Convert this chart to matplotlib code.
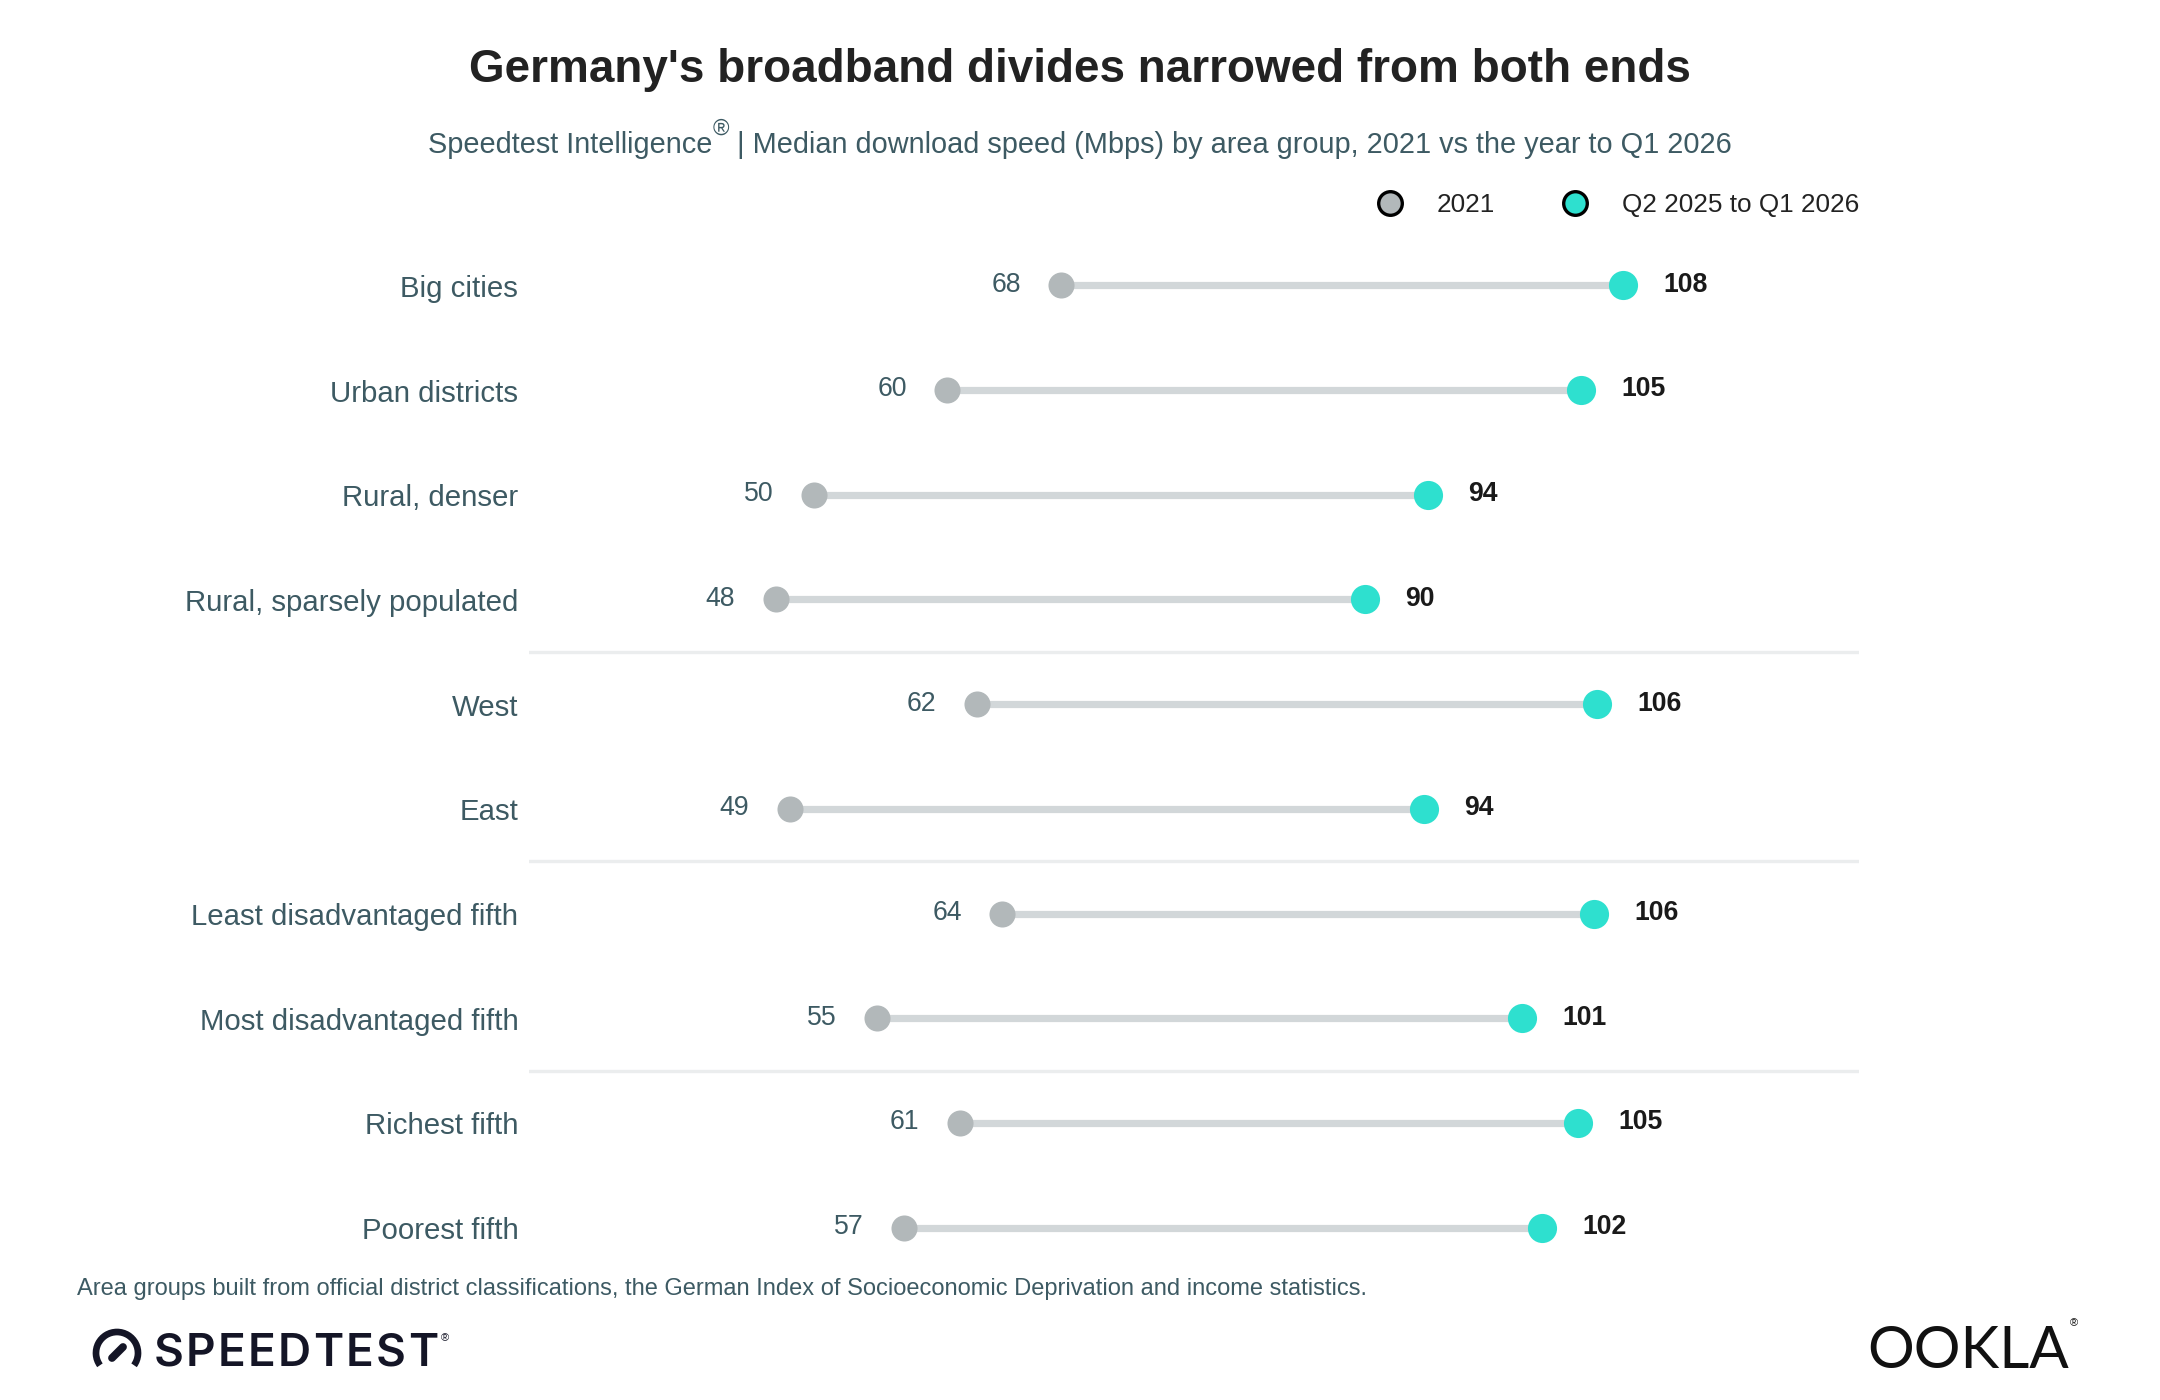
import matplotlib.pyplot as plt
from matplotlib.lines import Line2D
from matplotlib.patches import Arc

plt.rcParams['font.family'] = ['Liberation Sans', 'DejaVu Sans']

# data (dot positions; labels are the rounded values)
groups = ["Big cities", "Urban districts", "Rural, denser", "Rural, sparsely populated",
          "West", "East", "Least disadvantaged fifth", "Most disadvantaged fifth",
          "Richest fifth", "Poorest fifth"]
speed_2021 = [68.0, 59.9, 50.4, 47.7, 62.0, 48.7, 63.8, 54.9, 60.8, 56.8]
speed_recent = [108.0, 105.0, 94.1, 89.6, 106.1, 93.8, 105.9, 100.8, 104.8, 102.2]
separators = [3.5, 5.5, 7.5]

SLATE = "#3d5a63"
GREY_DOT = "#b2b8ba"
TEAL = "#2ee0cf"
LINE = "#d2d7d9"
INK = "#141526"

W, H = 2160, 1400
fig = plt.figure(figsize=(10.8, 7), dpi=200)
renderer = fig.canvas.get_renderer()

def fx(px):
    return px / W

def fy(py):
    return 1 - py / H

def width_px(t):
    return t.get_window_extent(renderer=renderer).width

# rows at y=285 .. 1228 px, 104.8 px apart
ax = fig.add_axes([fx(529), fy(1280), fx(1859 - 529), (1280 - 233) / H])
ax.set_xlim(30.16, 124.75)
ax.set_ylim(len(groups) - 0.5, -0.5)
ax.axis("off")

for s in separators:
    ax.axhline(s, color="#ebedee", lw=1.2, zorder=0)

for i, (a, b) in enumerate(zip(speed_2021, speed_recent)):
    ax.plot([a, b], [i, i], color=LINE, lw=2.6, solid_capstyle="butt", zorder=1)
    ax.scatter(a, i, s=88, color=GREY_DOT, zorder=2, linewidths=0)
    ax.scatter(b, i, s=110, color=TEAL, zorder=3, linewidths=0)
    ax.annotate(f"{a:.0f}", (a, i), xytext=(-14.5, 0.2), textcoords="offset points",
                ha="right", va="center", fontsize=9.6, color=SLATE)
    ax.annotate(f"{b:.0f}", (b, i), xytext=(14.5, 0.2), textcoords="offset points",
                ha="left", va="center", fontsize=9.6, color="#1a1a1a", fontweight="bold")
    ax.text(-0.008, i + 0.033, groups[i], transform=ax.get_yaxis_transform(),
            ha="right", va="center", fontsize=10.6, color=SLATE)

handles = [
    Line2D([], [], marker="o", ls="none", markersize=8.5, markerfacecolor=GREY_DOT,
           markeredgecolor="black", markeredgewidth=1.2, label="2021"),
    Line2D([], [], marker="o", ls="none", markersize=8.5, markerfacecolor=TEAL,
           markeredgecolor="black", markeredgewidth=1.2, label="Q2 2025 to Q1 2026"),
]
ax.legend(handles=handles, loc="center right", bbox_to_anchor=(1.0, 1 + 28 / 1047), ncol=2,
          frameon=False, borderaxespad=0, borderpad=0, handletextpad=0.8,
          columnspacing=2.05, fontsize=9.4, labelcolor="#222222")

fig.text(0.5, fy(70), "Germany's broadband divides narrowed from both ends",
         ha="center", va="center", fontsize=16.5, fontweight="bold", color="#222222")

# subtitle in pieces so the registered sign sits raised
sub_a = fig.text(0, fy(145), "Speedtest Intelligence", ha="left", va="center",
                 fontsize=10.4, color=SLATE)
sub_r = fig.text(0, fy(129), "®", ha="left", va="center", fontsize=8, color=SLATE)
sub_b = fig.text(0, fy(145), " | Median download speed (Mbps) by area group, 2021 vs the year to Q1 2026",
                 ha="left", va="center", fontsize=10.4, color=SLATE)
wa, wr, wb = width_px(sub_a), width_px(sub_r), width_px(sub_b)
x0 = (W - (wa + wr + wb)) / 2
sub_a.set_x(fx(x0))
sub_r.set_x(fx(x0 + wa))
sub_b.set_x(fx(x0 + wa + wr))

fig.text(fx(77), fy(1289),
         "Area groups built from official district classifications, the German Index of Socioeconomic Deprivation and income statistics.",
         ha="left", va="center", fontsize=8.5, color=SLATE)

# SPEEDTEST wordmark, letters spread to the logo's width
letters = [fig.text(0, fy(1354), c, ha="left", va="center", fontsize=16.5,
                    fontweight="semibold", color=INK, family=["Inter", "DejaVu Sans"])
           for c in "SPEEDTEST"]
widths = [width_px(t) for t in letters]
track = (284 - sum(widths)) / (len(letters) - 1)
xpos = 154
for t, w in zip(letters, widths):
    t.set_x(fx(xpos))
    xpos += w + track
fig.text(fx(xpos - track + 3), fy(1338), "®", ha="left", va="center", fontsize=4, color=INK)
gauge = Arc((fx(117), fy(1353)), fx(42), 42 / H, theta1=-48, theta2=228,
            transform=fig.transFigure, lw=2.4, color=INK)
fig.add_artist(gauge)
fig.add_artist(Line2D([fx(112), fx(123)], [fy(1358), fy(1347)], transform=fig.transFigure,
                      lw=2.8, color=INK, solid_capstyle="round"))

ookla = fig.text(fx(1867), fy(1351), "OOKLA", ha="left", va="center", fontsize=21,
                 color="#111111", family=["Lato", "DejaVu Sans"])
fig.text(fx(1867 + width_px(ookla) + 1), fy(1323), "®", ha="left", va="center",
         fontsize=4, color="#111111")

fig.savefig("out.png", dpi=200, facecolor="white")
